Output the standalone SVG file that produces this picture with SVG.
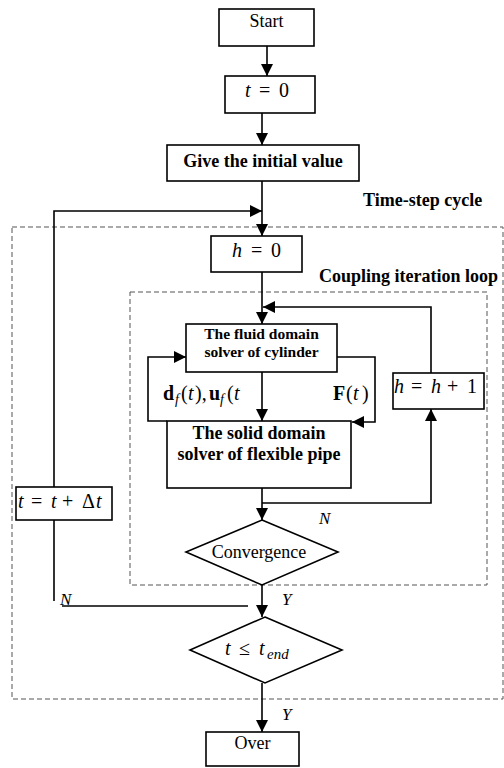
<svg xmlns="http://www.w3.org/2000/svg" width="504" height="768" viewBox="0 0 504 768">
<defs>
<marker id="ah" markerUnits="userSpaceOnUse" markerWidth="12" markerHeight="12" refX="12" refY="6" orient="auto">
<path d="M0,0 L12,6 L0,12 z" fill="#000"/>
</marker>
<style>
.box{fill:#fff;stroke:#000;stroke-width:1.6}
.dia{fill:#fff;stroke:#000;stroke-width:1.6}
.dash{fill:none;stroke:#555;stroke-width:1;stroke-dasharray:5,3}
.ln{fill:none;stroke:#000;stroke-width:1.6}
.arr{fill:none;stroke:#000;stroke-width:1.6;marker-end:url(#ah)}
.t{font-family:"Liberation Serif","Times New Roman",serif;font-size:18px;fill:#000}
.b{font-weight:bold}
.m{font-family:"Liberation Serif","Times New Roman",serif;font-size:20px;fill:#000}
.i{font-style:italic}
.mb{font-weight:bold}
</style>
</defs>
<rect width="504" height="768" fill="#fff"/>
<g id="frames">
<rect class="dash" x="12" y="227" width="491" height="472"/>
<rect class="dash" x="130" y="292" width="357" height="293"/>
<text class="t b" x="363" y="206">Time-step cycle</text>
<text class="t b" x="319" y="282">Coupling iteration loop</text>
</g>
<g id="connectors">
<line class="arr" x1="267" y1="46" x2="267" y2="76"/>
<line class="arr" x1="262" y1="113" x2="262" y2="145"/>
<line class="arr" x1="262" y1="181" x2="262" y2="236"/>
<polyline class="arr" points="54,487 54,211 262,211"/>
<line class="ln" x1="54" y1="520" x2="54" y2="601"/>
<line class="ln" x1="62" y1="606" x2="248" y2="606"/>
<line class="arr" x1="262" y1="272" x2="262" y2="324"/>
<polyline class="arr" points="431,373 431,307 263,307"/>
<line class="arr" x1="262" y1="372" x2="262" y2="421"/>
<polyline class="arr" points="167,421 148,421 148,357 186,357"/>
<polyline class="arr" points="337,357 375,357 375,422 352,422"/>
<line class="arr" x1="262" y1="488" x2="262" y2="520"/>
<polyline class="arr" points="262,503 431,503 431,409"/>
<line class="arr" x1="262" y1="585" x2="262" y2="617"/>
<line class="arr" x1="262" y1="683" x2="262" y2="732"/>
</g>
<g id="start">
<rect class="box" x="219" y="9" width="95" height="37"/>
<text class="t" x="266.5" y="27" text-anchor="middle">Start</text>
</g>
<g id="t0">
<rect class="box" x="225" y="76" width="90" height="37"/>
<text class="m" y="97"><tspan class="i" x="245">t</tspan><tspan x="259">=</tspan><tspan x="279">0</tspan></text>
</g>
<g id="init">
<rect class="box" x="167" y="145" width="192" height="36"/>
<text class="t b" x="263" y="167" text-anchor="middle">Give the initial value</text>
</g>
<g id="h0">
<rect class="box" x="211" y="236" width="91" height="36"/>
<text class="m" y="257"><tspan class="i" x="232">h</tspan><tspan x="251">=</tspan><tspan x="271">0</tspan></text>
</g>
<g id="fluid">
<rect class="box" x="186" y="324" width="151" height="48"/>
<text class="t b" x="261.5" y="339" text-anchor="middle" style="font-size:15.5px">The fluid domain</text>
<text class="t b" x="261.5" y="357" text-anchor="middle" style="font-size:15.5px">solver of cylinder</text>
</g>
<g id="labels-exchange">
<text class="m" y="400"><tspan class="mb" x="163">d</tspan><tspan class="i" x="175" dy="4" style="font-size:14px">f</tspan><tspan x="181" dy="-4">(</tspan><tspan class="i" x="188">t</tspan><tspan x="195">),</tspan><tspan class="mb" x="209">u</tspan><tspan class="i" x="220" dy="4" style="font-size:14px">f</tspan><tspan x="227" dy="-4">(</tspan><tspan class="i" x="234">t</tspan></text>
<text class="m" y="400"><tspan class="mb" x="333">F</tspan><tspan x="346">(</tspan><tspan class="i" x="353">t</tspan><tspan x="362">)</tspan></text>
</g>
<g id="solid">
<rect class="box" x="167" y="421" width="184" height="67"/>
<text class="t b" x="259" y="439" text-anchor="middle">The solid domain</text>
<text class="t b" x="259" y="460" text-anchor="middle">solver of flexible pipe</text>
</g>
<g id="hinc">
<rect class="box" x="393" y="373" width="91" height="36"/>
<text class="m" y="393"><tspan class="i" x="394">h</tspan><tspan x="411">=</tspan><tspan class="i" x="431">h</tspan><tspan x="447">+</tspan><tspan x="467">1</tspan></text>
</g>
<g id="tinc">
<rect class="box" x="16" y="487" width="96" height="33"/>
<text class="m" y="508"><tspan class="i" x="18">t</tspan><tspan x="31">=</tspan><tspan class="i" x="51">t</tspan><tspan x="62">+</tspan><tspan x="82">Δ</tspan><tspan class="i" x="96">t</tspan></text>
</g>
<g id="convergence">
<polygon class="dia" points="262,520 338,552 262,585 186,552"/>
<text class="t" x="259" y="558" text-anchor="middle">Convergence</text>
<text class="m i" x="319" y="524" style="font-size:17px">N</text>
</g>
<g id="tcheck">
<polygon class="dia" points="265,617 342,650 265,683 190,650"/>
<text class="m" y="655"><tspan class="i" x="225">t</tspan><tspan x="239">≤</tspan><tspan class="i" x="259">t</tspan><tspan class="i" x="267" dy="4" style="font-size:15px">end</tspan></text>
<text class="m i" x="282" y="605" style="font-size:17px">Y</text>
<text class="m i" x="282" y="720" style="font-size:17px">Y</text>
<text class="m i" x="60" y="605" style="font-size:17px">N</text>
</g>
<g id="over">
<rect class="box" x="206" y="732" width="93" height="34"/>
<text class="t" x="252.5" y="749" text-anchor="middle">Over</text>
</g>
</svg>
